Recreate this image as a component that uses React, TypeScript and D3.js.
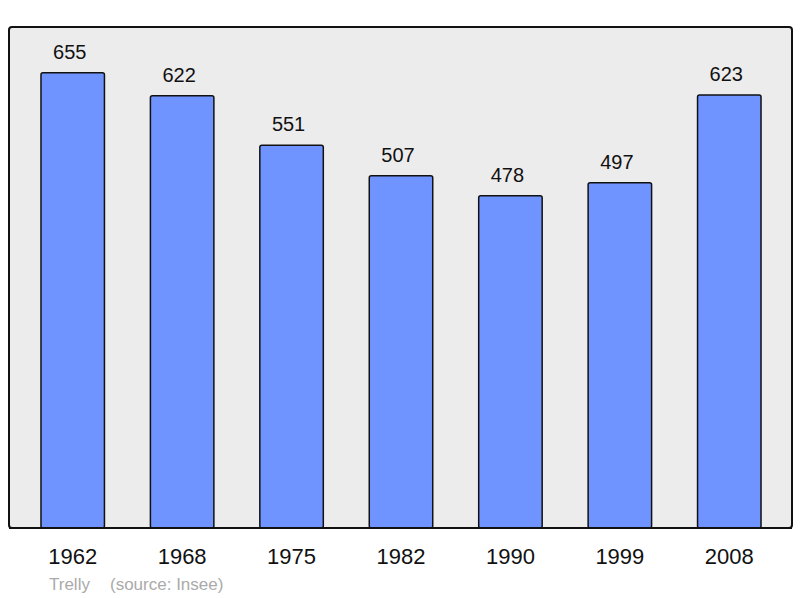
import React from "react";
import * as d3 from "d3";

const years = ["1962", "1968", "1975", "1982", "1990", "1999", "2008"];
const population = [655, 622, 551, 507, 478, 497, 623];

const W = 800;
const H = 598;
const frame = { left: 9, top: 27, right: 792, bottom: 528 };

const App = () => {
  const x = d3
    .scaleBand()
    .domain(years)
    .range([frame.left + 9, frame.right - 8])
    .paddingInner(0.42)
    .paddingOuter(0.21);

  const y = d3.scaleLinear().domain([0, 721]).range([frame.bottom, frame.top]);

  const font = "'Liberation Sans', Arial, sans-serif";

  return (
    <svg
      width={W}
      height={H}
      style={{ position: "absolute", left: 0, top: 0, background: "#fff" }}
      fontFamily={font}
    >
      <rect
        x={frame.left}
        y={frame.top}
        width={frame.right - frame.left}
        height={frame.bottom - frame.top}
        rx={3}
        fill="#ececec"
        stroke="#111"
        strokeWidth={2}
      />
      {years.map((yr, i) => (
        <g key={yr}>
          <rect
            x={x(yr)}
            y={y(population[i])}
            width={x.bandwidth()}
            height={frame.bottom - y(population[i])}
            rx={2}
            fill="#7094ff"
            stroke="#111"
            strokeWidth={1.5}
          />
          <text
            x={(x(yr) ?? 0) + x.bandwidth() / 2 - 3}
            y={y(population[i]) - 14}
            textAnchor="middle"
            fontSize={20}
            fill="#111"
          >
            {population[i]}
          </text>
          <text
            x={(x(yr) ?? 0) + x.bandwidth() / 2}
            y={564}
            textAnchor="middle"
            fontSize={22}
            fill="#111"
          >
            {yr}
          </text>
        </g>
      ))}
      <line
        x1={frame.left}
        x2={frame.right}
        y1={frame.bottom}
        y2={frame.bottom}
        stroke="#111"
        strokeWidth={2}
      />
      <text x={49} y={590} fontSize={17} fill="#aaa">
        Trelly
      </text>
      <text x={110} y={590} fontSize={17} fill="#aaa">
        (source: Insee)
      </text>
    </svg>
  );
};

export default App;
